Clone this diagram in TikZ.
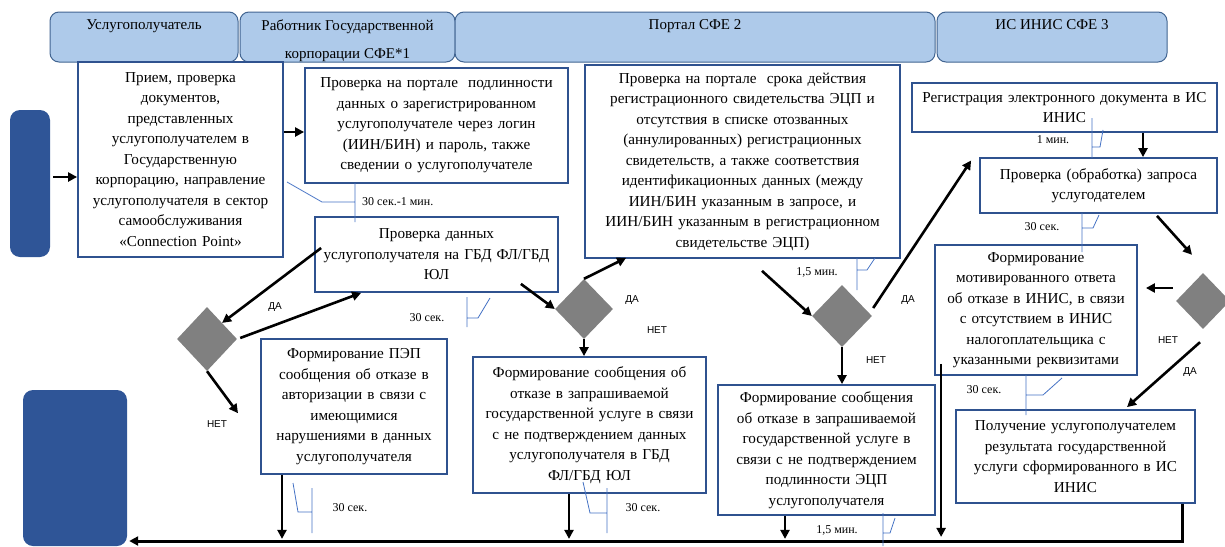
\documentclass[tikz,border=0pt]{standalone}
\usepackage{fontspec}
\setmainfont{Liberation Serif}
\newfontfamily\timesf{Liberation Serif}
\newfontfamily\arialf{Liberation Sans}
\usetikzlibrary{arrows.meta,shapes.geometric,calc}
\definecolor{boxblue}{RGB}{47,82,143}
\definecolor{hdrfill}{RGB}{174,202,234}
\definecolor{hdrline}{RGB}{65,100,145}
\definecolor{darkblue}{RGB}{47,85,151}
\definecolor{callblue}{RGB}{68,114,196}
\definecolor{dgray}{RGB}{128,128,128}
\begin{document}
\begin{tikzpicture}[x=1pt,y=-1pt,
 box/.style={draw=boxblue,line width=1.8pt,fill=white,align=center,inner sep=0pt,font=\timesf\fontsize{15.2}{20.5}\selectfont},
 hdr/.style={draw=hdrline,fill=hdrfill,rounded corners=9pt,line width=1pt,inner sep=0pt},
 htext/.style={font=\timesf\fontsize{15}{28}\selectfont,align=center,inner sep=0pt},
 term/.style={fill=darkblue,rounded corners=10pt,inner sep=0pt},
 dec/.style={diamond,fill=dgray,inner sep=0pt},
 arr/.style={line width=2.6pt,-{Triangle[length=9pt,width=9pt]}},
 call/.style={draw=callblue,line width=0.8pt},
 tlab/.style={font=\timesf\fontsize{12}{13}\selectfont,inner sep=0pt},
 ylab/.style={font=\arialf\fontsize{10}{12}\selectfont,inner sep=0pt}]

\useasboundingbox (0,0) rectangle (1225,546);

% header lanes
\node[hdr,minimum width=188pt,minimum height=50pt] (h1) at (144,37) {};
\node[hdr,minimum width=215pt,minimum height=50pt] (h2) at (347.5,37) {};
\node[hdr,minimum width=480pt,minimum height=50pt] (h3) at (695,37) {};
\node[hdr,minimum width=230pt,minimum height=50pt] (h4) at (1052,37) {};
\node[htext,anchor=north] (t1) at ($(h1.north)+(0,8)$) {Услугополучатель};
\node[htext,anchor=north] (t2) at ($(h2.north)+(0,8)$) {Работник Государственной\\корпорации СФЕ*1};
\node[htext,anchor=north] (t3) at ($(h3.north)+(0,8)$) {Портал СФЕ 2};
\node[htext,anchor=north] (t4) at ($(h4.north)+(0,8)$) {ИС ИНИС СФЕ 3};

% terminators
\node[term,minimum width=40pt,minimum height=147pt] (L1) at (30,183.5) {};
\node[term,minimum width=104pt,minimum height=156pt] (L2) at (75,468) {};

% process boxes
\node[box,minimum width=205pt,minimum height=195pt,text width=203pt] (A) at (180.5,159.5)
 {Прием, проверка\\документов,\\представленных\\услугополучателем в\\Государственную\\корпорацию, направление\\услугополучателя в сектор\\самообслуживания\\«Connection Point»};
\node[box,minimum width=263pt,minimum height=115pt,text width=261pt] (B) at (436.5,125.5)
 {Проверка на портале\ \ подлинности\\данных о зарегистрированном\\услугополучателе через логин\\(ИИН/БИН) и пароль, также\\сведении о услугополучателе};
\node[box,minimum width=243pt,minimum height=75pt,text width=241pt] (C) at (436.5,254.5)
 {Проверка данных\\услугополучателя на ГБД ФЛ/ГБД\\ЮЛ};
\node[box,minimum width=315pt,minimum height=193pt,text width=313pt] (D) at (742.5,161.5)
 {Проверка на портале\ \ срока действия\\регистрационного свидетельства ЭЦП и\\отсутствия в списке отозванных\\(аннулированных) регистрационных\\свидетельств, а также соответствия\\идентификационных данных (между\\ИИН/БИН указанным в запросе, и\\ИИН/БИН указанным в регистрационном\\свидетельстве ЭЦП)};
\node[box,minimum width=305pt,minimum height=49pt,text width=303pt] (E) at (1064.5,107.5)
 {Регистрация электронного документа в ИС\\ИНИС};
\node[box,minimum width=237pt,minimum height=55pt,text width=235pt] (F) at (1098.5,185.5)
 {Проверка (обработка) запроса\\услугодателем};
\node[box,minimum width=202pt,minimum height=130pt,text width=200pt] (G) at (1036,310)
 {Формирование\\мотивированного ответа\\об отказе в ИНИС, в связи\\с отсутствием в ИНИС\\налогоплательщика с\\указанными реквизитами};
\node[box,minimum width=186pt,minimum height=135pt,text width=184pt] (H) at (354,406.5)
 {Формирование ПЭП\\сообщения об отказе в\\авторизации в связи с\\имеющимися\\нарушениями в данных\\услугополучателя};
\node[box,minimum width=233pt,minimum height=136pt,text width=231pt] (I) at (589.5,425)
 {Формирование сообщения об\\отказе в запрашиваемой\\государственной услуге в связи\\с не подтверждением данных\\услугополучателя в ГБД\\ФЛ/ГБД ЮЛ};
\node[box,minimum width=217pt,minimum height=130pt,text width=215pt] (J) at (826.5,450)
 {Формирование сообщения\\об отказе в запрашиваемой\\государственной услуге в\\связи с не подтверждением\\подлинности ЭЦП\\услугополучателя};
\node[box,minimum width=239pt,minimum height=93pt,text width=237pt] (K) at (1075.5,456.5)
 {Получение услугополучателем\\результата государственной\\услуги сформированного в ИС\\ИНИС};

% decisions
\node[dec,minimum width=60pt,minimum height=64pt] (D1) at (207,339) {};
\node[dec,minimum width=58pt,minimum height=60pt] (D2) at (584,309) {};
\node[dec,minimum width=60pt,minimum height=62pt] (D3) at (842,316) {};
\node[dec,minimum width=54pt,minimum height=56pt] (D4) at (1203,301) {};

% free ends
\coordinate (n1) at ($(D1.south)+(31,42)$);

% connectors
\draw[arr] ($(L1.east)+(3,-6.5)$) -- ($(A.west)+(0,17.5)$);
\draw[arr] ($(A.east)+(0,-27.5)$) -- ($(B.west)+(0,6.5)$);
\draw[arr] ($(C.west)+(7,-6.5)$) -- (D1.north east);
\draw[arr] ($(D1.east)+(3,-1)$) -- ($(C.south west)+(47,0)$);
\draw[arr] (D1.south) -- (n1);
\draw[arr] ($(C.south east)+(-38,-9)$) -- (D2.west);
\draw[arr] (D2.north) -- ($(D.south west)+(42,-1)$);
\draw[arr] (D2.south) -- ($(I.north)+(-5.5,0)$);
\draw[arr] ($(D.south)+(19.5,12)$) -- (D3.west);
\draw[arr] ($(D3.east)+(1,-8)$) -- ($(F.west)+(-8,-25)$);
\draw[arr] (D3.south) -- ($(J.north)+(15.5,0)$);
\draw[arr] ($(E.south)+(78.5,0)$) -- ($(F.north)+(44.5,0)$);
\draw[arr] ($(F.south)+(58.5,2)$) -- ($(D4.north)+(-11,-18)$);
\draw[arr] ($(D4.west)+(-3,-13)$) -- ($(G.east)+(8,-22)$);
\draw[arr] ($(D4.south)+(-3,13)$) -- ($(K.north)+(51.5,-2)$);
\draw[arr] ($(G.south west)+(7,-12)$) -- ($(G.south west)+(7,161)$);
\draw[arr] ($(H.south)+(-72,0)$) -- ($(H.south)+(-72,64)$);
\draw[arr] ($(I.south)+(-20.5,0)$) -- ($(I.south)+(-20.5,45)$);
\draw[arr] ($(J.south)+(-41.5,0)$) -- ($(J.south)+(-41.5,23)$);
\draw[line width=3pt,-{Triangle[length=9pt,width=9pt]}] ($(K.south east)+(-13,0)$) |- ($(L2.east)+(2,73)$);

% yes/no labels
\node[ylab] (y1) at (275,307) {ДА};
\node[ylab] (y2) at (217,424) {НЕТ};
\node[ylab] (y3) at (632,300) {ДА};
\node[ylab] (y4) at (657,330) {НЕТ};
\node[ylab] (y5) at (908,300) {ДА};
\node[ylab] (y6) at (876,360) {НЕТ};
\node[ylab] (y7) at (1168,340) {НЕТ};
\node[ylab] (y8) at (1190,372) {ДА};

% time callouts
\draw[call] (287,182) -- (322,202) -- (355,202) (355,183) -- (355,222);
\draw[call] (467,297) -- (467,327) (467,318) -- (478,318) -- (490,298);
\draw[call] (293,483) -- (298,512) -- (312,512) (312,488) -- (312,533);
\draw[call] (583,482) -- (590,513) -- (607,513) (607,488) -- (607,533);
\draw[call] (883,513) -- (883,546) (883,533) -- (890,533) -- (895,518);
\draw[call] (857,258) -- (857,290) (857,270) -- (867,270) -- (875,258);
\draw[call] (1092,118) -- (1092,158) (1092,147) -- (1100,147) -- (1103,130);
\draw[call] (1082,213) -- (1082,252) (1082,228) -- (1093,228) -- (1099,215);
\draw[call] (1026,375) -- (1026,415) (1026,395) -- (1043,395) -- (1062,378);

\node[tlab,anchor=west] (c1) at (362,202) {30 сек.-1 мин.};
\node[tlab] (c2) at (427,318) {30 сек.};
\node[tlab] (c3) at (350,508) {30 сек.};
\node[tlab] (c4) at (643,508) {30 сек.};
\node[tlab] (c5) at (837,530) {1,5 мин.};
\node[tlab] (c6) at (817,272) {1,5 мин.};
\node[tlab] (c7) at (1053,140) {1 мин.};
\node[tlab] (c8) at (1042,227) {30 сек.};
\node[tlab] (c9) at (984,390) {30 сек.};
\end{tikzpicture}
\end{document}
